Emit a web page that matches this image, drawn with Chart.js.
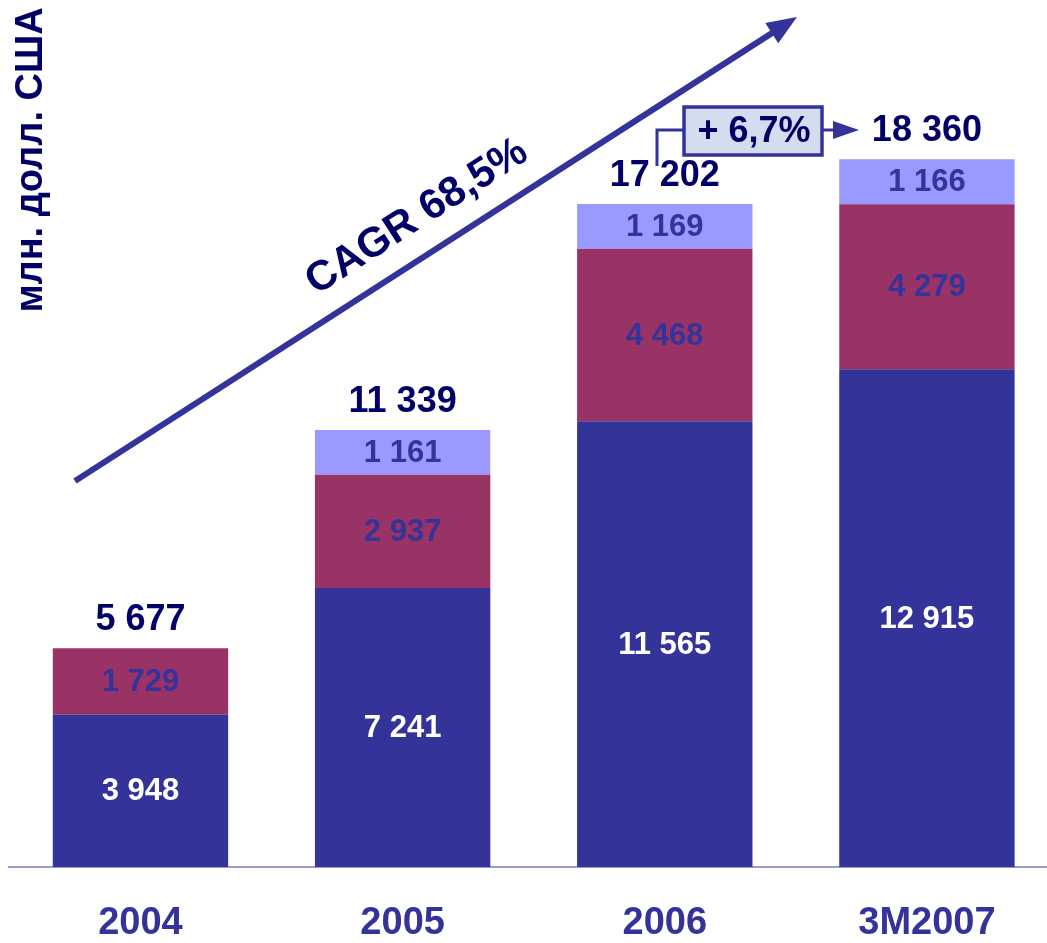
<!DOCTYPE html>
<html>
<head>
<meta charset="utf-8">
<script src="https://cdn.jsdelivr.net/npm/chart.js@4.4.1/dist/chart.umd.min.js"></script>
<style>
  html, body { margin: 0; padding: 0; background: #ffffff; overflow: hidden; }
  #wrap { position: absolute; left: 0; top: 0; width: 1060px; height: 943px; }
</style>
</head>
<body>
<div id="wrap"><canvas id="c" width="1060" height="943"></canvas></div>
<script>
// ---- data ----
const categories = ['2004', '2005', '2006', '3M2007'];
const seriesDark = [3948, 7241, 11565, 12915];
const seriesMaroon = [1729, 2937, 4468, 4279];
const seriesLight = [null, 1161, 1169, 1166];
const totals = [5677, 11339, 17202, 18360];
const yAxisTitle = 'млн. долл. США';
const cagrText = 'CAGR 68,5%';
const growthText = '+ 6,7%';

const FONT = '"Liberation Sans", Arial, Helvetica, sans-serif';
const NAVY = '#000066';
const DARK = '#333399';
const MAROON = '#993366';
const LIGHT = '#9999ff';

function fmt(v) {
  return String(v).replace(/\B(?=(\d{3})+(?!\d))/g, ' ');
}

const labelPlugin = {
  id: 'labels',
  afterDatasetsDraw(chart) {
    const ctx = chart.ctx;
    ctx.save();
    ctx.textAlign = 'center';
    ctx.textBaseline = 'middle';
    chart.data.datasets.forEach((ds, di) => {
      const meta = chart.getDatasetMeta(di);
      meta.data.forEach((bar, i) => {
        const v = ds.data[i];
        if (v === null || v === undefined) return;
        const p = bar.getProps(['x', 'y', 'base'], true);
        ctx.fillStyle = ds.labelColor;
        ctx.font = 'bold 31px ' + FONT;
        ctx.fillText(fmt(v), p.x, (p.y + p.base) / 2 + 1);
      });
    });
    const ys = chart.scales.y;
    const xs = chart.scales.x;
    ctx.fillStyle = NAVY;
    ctx.font = 'bold 36px ' + FONT;
    totals.forEach((t, i) => {
      const x = xs.getPixelForValue(i);
      const y = ys.getPixelForValue(t);
      ctx.fillText(fmt(t), x, y - 28);
    });
    ctx.restore();
  },
  afterDraw(chart) {
    const ctx = chart.ctx;
    ctx.save();
    ctx.fillStyle = NAVY;
    ctx.font = 'bold 38px ' + FONT;
    ctx.textAlign = 'center';
    ctx.textBaseline = 'alphabetic';
    ctx.translate(42, 160);
    ctx.rotate(-Math.PI / 2);
    ctx.fillText(yAxisTitle, 0, 0);
    ctx.restore();

    // CAGR arrow
    ctx.save();
    const x0 = 75, y0 = 481, x1 = 797, y1 = 17;
    const ang = Math.atan2(y1 - y0, x1 - x0);
    const headLen = 30, headW = 12;
    const bx = x1 - headLen * Math.cos(ang), by = y1 - headLen * Math.sin(ang);
    ctx.strokeStyle = DARK;
    ctx.lineWidth = 6;
    ctx.beginPath();
    ctx.moveTo(x0, y0);
    ctx.lineTo(bx + 2 * Math.cos(ang), by + 2 * Math.sin(ang));
    ctx.stroke();
    ctx.fillStyle = DARK;
    ctx.beginPath();
    ctx.moveTo(x1, y1);
    ctx.lineTo(bx + headW * Math.sin(ang), by - headW * Math.cos(ang));
    ctx.lineTo(bx - headW * Math.sin(ang), by + headW * Math.cos(ang));
    ctx.closePath();
    ctx.fill();
    ctx.translate(417, 217);
    ctx.rotate(ang);
    ctx.fillStyle = NAVY;
    ctx.font = 'bold 42px ' + FONT;
    ctx.textAlign = 'center';
    ctx.textBaseline = 'middle';
    ctx.fillText(cagrText, 0, 0);
    ctx.restore();

    // growth box and connectors
    ctx.save();
    ctx.strokeStyle = DARK;
    ctx.lineWidth = 3;
    ctx.beginPath();
    ctx.moveTo(657, 166);
    ctx.lineTo(657, 130);
    ctx.lineTo(684, 130);
    ctx.stroke();
    ctx.beginPath();
    ctx.moveTo(822, 130);
    ctx.lineTo(836, 130);
    ctx.stroke();
    ctx.fillStyle = DARK;
    ctx.beginPath();
    ctx.moveTo(859, 130);
    ctx.lineTo(833, 121);
    ctx.lineTo(833, 139);
    ctx.closePath();
    ctx.fill();
    ctx.fillStyle = '#d3ddef';
    ctx.fillRect(684, 107, 138, 48);
    ctx.lineWidth = 3.5;
    ctx.strokeRect(684, 107, 138, 48);
    ctx.fillStyle = NAVY;
    ctx.font = 'bold 36px ' + FONT;
    ctx.textAlign = 'center';
    ctx.textBaseline = 'middle';
    ctx.fillText(growthText, 754, 132);
    ctx.restore();
  }
};

new Chart(document.getElementById('c'), {
  type: 'bar',
  data: {
    labels: categories,
    datasets: [
      { label: 'dark', data: seriesDark, backgroundColor: DARK, labelColor: '#ffffff' },
      { label: 'maroon', data: seriesMaroon, backgroundColor: MAROON, labelColor: DARK },
      { label: 'light', data: seriesLight, backgroundColor: LIGHT, labelColor: DARK }
    ]
  },
  options: {
    responsive: false,
    animation: false,
    layout: { padding: { left: 9.4, right: 2, top: 19, bottom: 0 } },
    datasets: { bar: { barPercentage: 0.669, categoryPercentage: 1, borderWidth: 0 } },
    plugins: { legend: { display: false }, tooltip: { enabled: false } },
    scales: {
      x: {
        stacked: true,
        grid: { display: false, drawTicks: false },
        border: { display: true, color: '#9a9acc', width: 2 },
        ticks: {
          color: DARK,
          font: { family: FONT, size: 38, weight: 'bold', lineHeight: 1 },
          padding: 38,
          maxRotation: 0
        },
        afterFit(scale) { scale.height = 76; }
      },
      y: {
        stacked: true,
        display: false,
        min: 0,
        max: 22000
      }
    }
  },
  plugins: [labelPlugin]
});
</script>
</body>
</html>
